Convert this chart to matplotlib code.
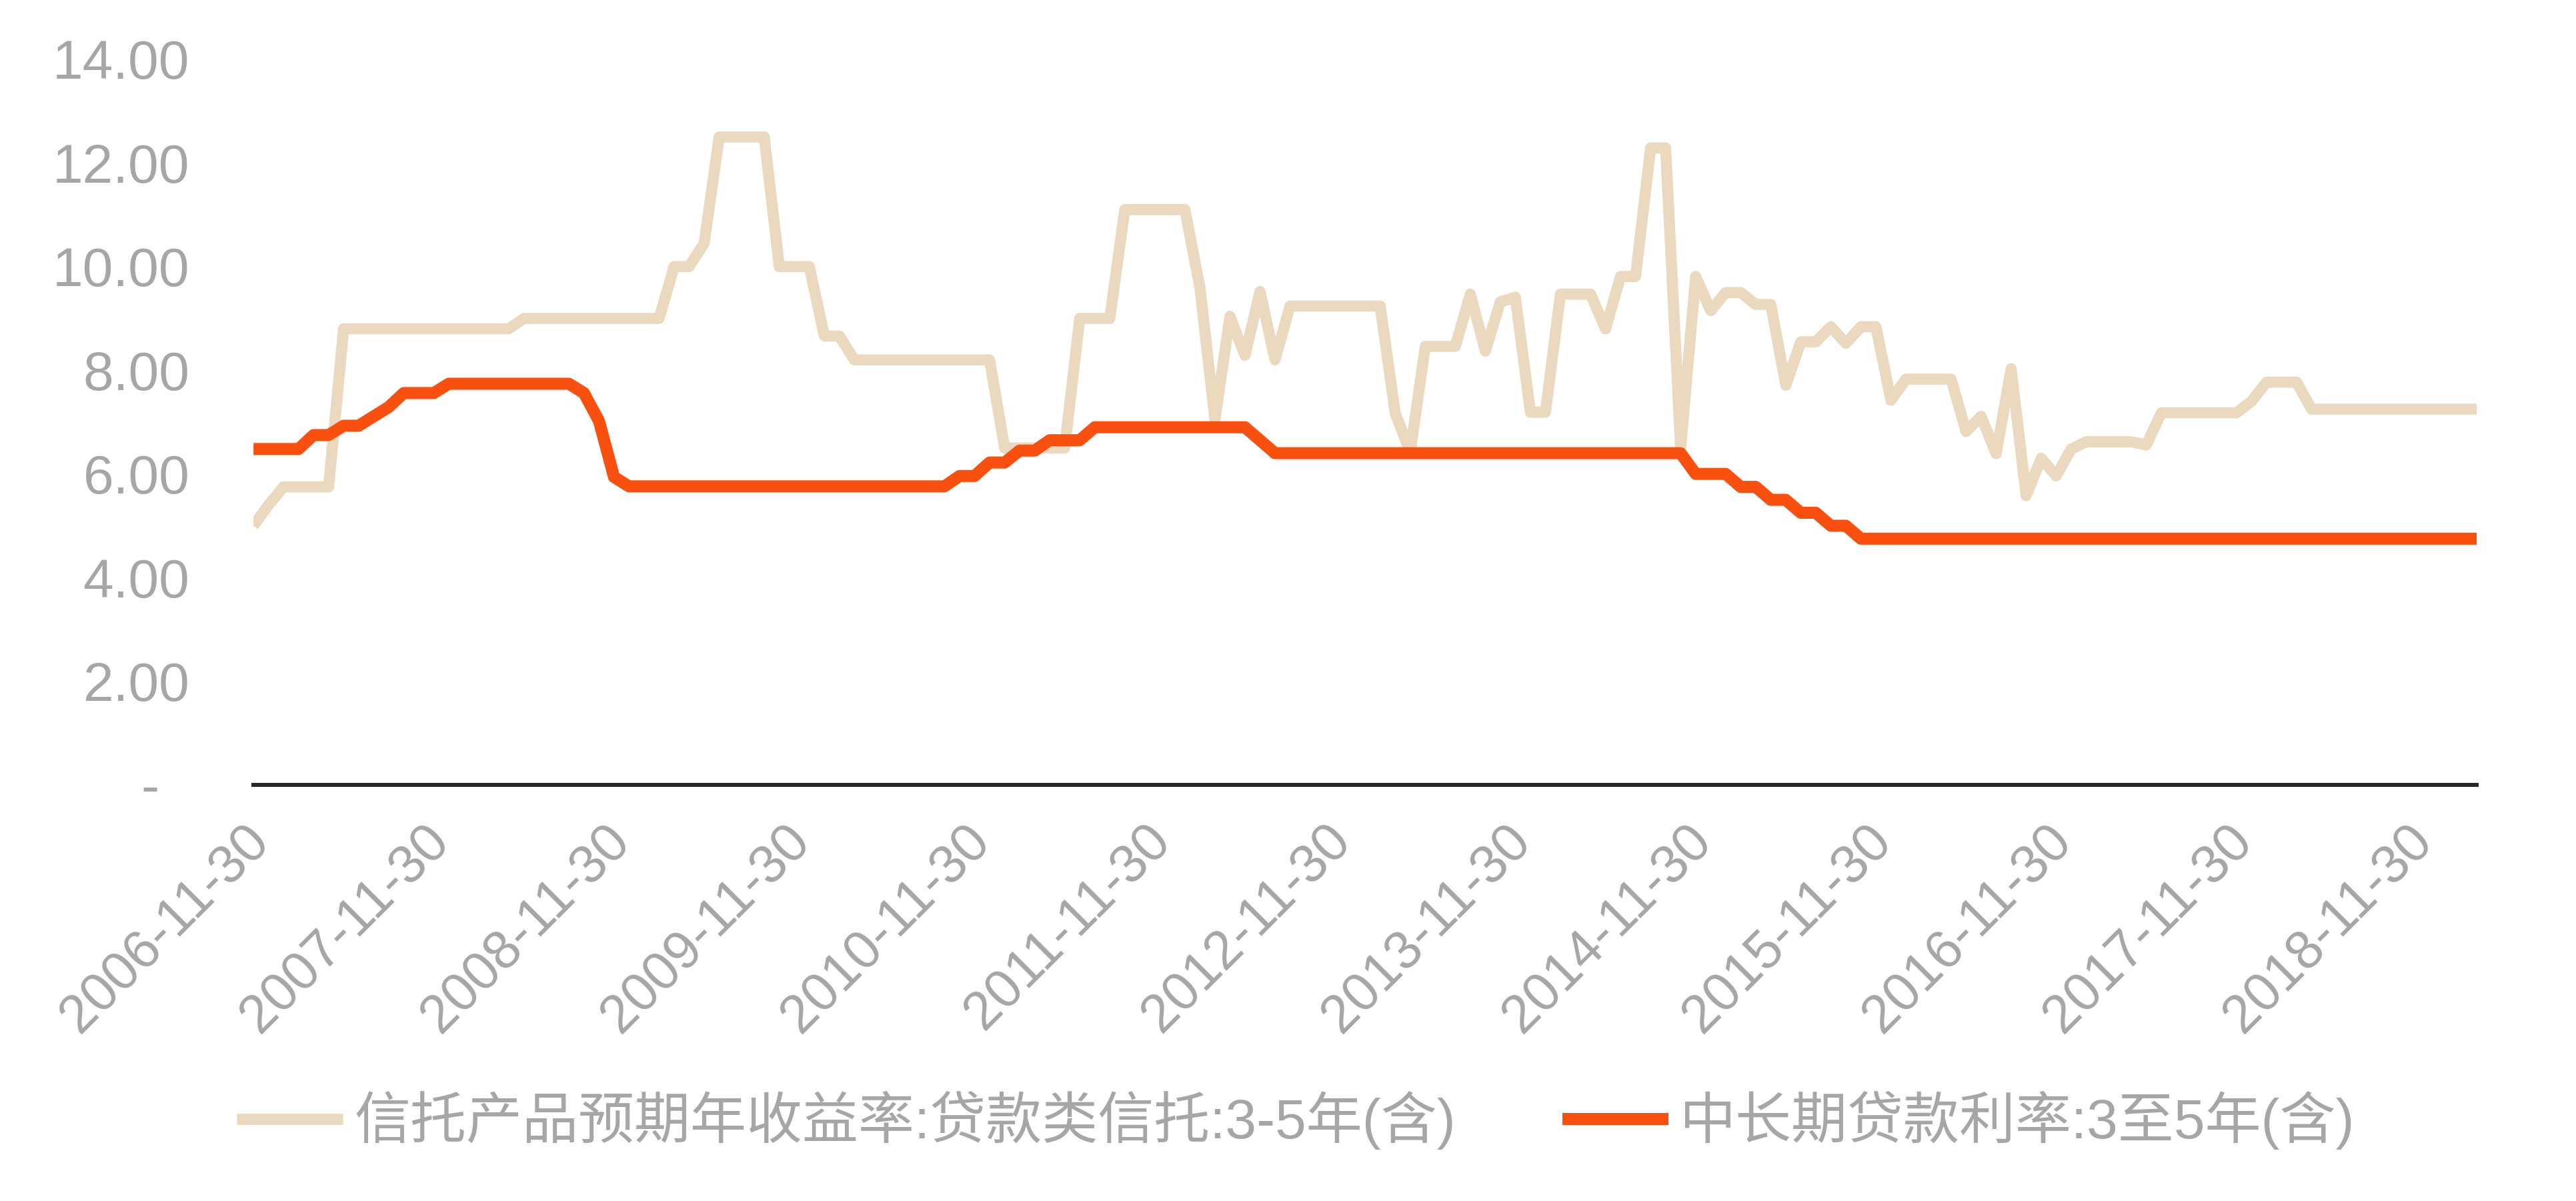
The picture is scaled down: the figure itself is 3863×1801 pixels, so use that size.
import matplotlib
matplotlib.use("Agg")
import matplotlib.pyplot as plt
from matplotlib.transforms import ScaledTranslation
import pandas as pd

plt.rcParams['font.family'] = ['Liberation Sans', 'Noto Sans CJK SC']

# month-end categories, 2006-11-30 .. 2019-03-31
dates = pd.date_range("2006-11-30", periods=149, freq="ME")

trust_name = "信托产品预期年收益率:贷款类信托:3-5年(含)"
loan_name = "中长期贷款利率:3至5年(含)"

trust_yield = (
    [5.0, 5.4, 5.75, 5.75, 5.75, 5.75]
    + [8.8] * 12
    + [9.0] * 10
    + [10.0, 10.0, 10.45]
    + [12.5] * 4
    + [10.0] * 3
    + [8.66, 8.66]
    + [8.2] * 10
    + [6.5] * 5
    + [9.0] * 3
    + [11.1] * 5
    + [9.6, 7.05, 9.04, 8.29, 9.52, 8.2]
    + [9.24] * 7
    + [7.17, 6.42]
    + [8.46] * 3
    + [9.47, 8.37, 9.32, 9.41, 7.19, 7.19]
    + [9.47] * 3
    + [8.8, 9.81, 9.81, 12.29, 12.29, 6.5, 9.81, 9.15, 9.5, 9.5, 9.27, 9.27]
    + [7.71, 8.55, 8.55, 8.84, 8.52, 8.84, 8.84, 7.42]
    + [7.83] * 4
    + [6.82, 7.11, 6.39, 8.03, 5.58, 6.3, 5.96, 6.48]
    + [6.62] * 4
    + [6.56]
    + [7.18] * 6
    + [7.4]
    + [7.77] * 3
    + [7.25] * 12
)

loan_rate = (
    [6.48] * 4 + [6.75] * 2 + [6.93] * 2 + [7.11, 7.29]
    + [7.56] * 3 + [7.74] * 9 + [7.56, 7.02, 5.94]
    + [5.76] * 22 + [5.96] * 2 + [6.22] * 2 + [6.45] * 2
    + [6.65] * 3 + [6.90] * 11 + [6.65]
    + [6.40] * 28 + [6.00] * 3 + [5.75] * 2 + [5.50] * 2
    + [5.25] * 2 + [5.00] * 2 + [4.75] * 42
)

y_ticks = [0, 2, 4, 6, 8, 10, 12, 14]
y_labels = ["-  ", "2.00", "4.00", "6.00", "8.00", "10.00", "12.00", "14.00"]

x = list(range(len(dates)))
x_ticks = x[::12]
x_labels = [d.strftime("%Y-%m-%d") for d in dates[::12]]

gray = "#A6A6A6"

fig = plt.figure(figsize=(38.63, 18.01), dpi=100)
ax = fig.add_axes([0.0984, 0.3465, 0.8631, 0.6041])

ax.plot(x, trust_yield, color="#EBD9BF", lw=12, solid_joinstyle="round",
        solid_capstyle="butt", label=trust_name)
ax.plot(x, loan_rate, color="#F9500F", lw=13, solid_joinstyle="round",
        solid_capstyle="butt", label=loan_name)

ax.set_xlim(0, len(dates) - 1)
ax.set_ylim(0, 14)

ax.set_yticks(y_ticks)
ax.set_yticklabels(y_labels)
ax.set_xticks(x_ticks)
ax.set_xticklabels(x_labels, rotation=45, ha="right", va="center",
                   rotation_mode="anchor")

ax.tick_params(axis="y", length=0, pad=69, labelsize=59, labelcolor=gray)
ax.tick_params(axis="x", length=0, pad=52, labelsize=58, labelcolor=gray)

# nudge the rotated date labels a little to the right
shift = ScaledTranslation(8 / 72, 0, fig.dpi_scale_trans)
for lab in ax.get_xticklabels():
    lab.set_transform(lab.get_transform() + shift)

for side in ["left", "right", "top"]:
    ax.spines[side].set_visible(False)
ax.spines["bottom"].set_color("#262626")
ax.spines["bottom"].set_linewidth(4.3)

leg = fig.legend(loc="center", bbox_to_anchor=(0.503, 0.067), ncol=2,
                 frameon=False, fontsize=60.5, handlelength=1.9,
                 handletextpad=0.2, columnspacing=1.9)
for t in leg.get_texts():
    t.set_color(gray)

fig.savefig("out.png", dpi=100)
plt.close(fig)
